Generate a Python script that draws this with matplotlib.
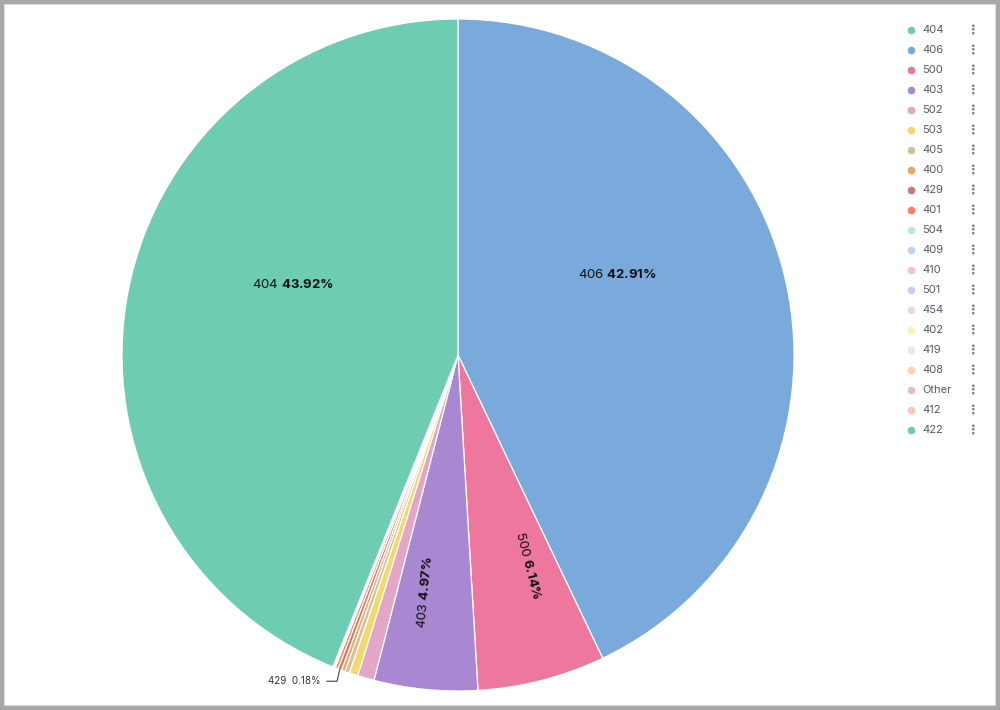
import numpy as np
import matplotlib
matplotlib.use("Agg")
import matplotlib.pyplot as plt
from matplotlib.patches import Rectangle
from matplotlib.lines import Line2D

plt.rcParams['font.family'] = ['Inter', 'DejaVu Sans']
plt.rcParams['mathtext.fontset'] = 'custom'
plt.rcParams['mathtext.rm'] = 'Inter'
plt.rcParams['mathtext.bf'] = 'Inter:bold'

# ---- data (legend order, descending) ----
categories = ["404", "406", "500", "403", "502", "503", "405", "400", "429", "401",
              "504", "409", "410", "501", "454", "402", "419", "408", "Other", "412", "422"]
percents = [43.92, 42.91, 6.14, 4.97, 0.80, 0.42, 0.22, 0.17, 0.18, 0.14,
            0.03, 0.02, 0.015, 0.012, 0.01, 0.008, 0.006, 0.005, 0.01, 0.004, 0.003]
colors = ["#6DCCB1", "#79AADB", "#EE789D", "#A987D1", "#E4A6C7", "#F1D86F", "#D2C0A0",
          "#F5A35C", "#C47C6C", "#FF7E62", "#B8E8DA", "#BED6EE", "#F8C0D2", "#D6C6EB",
          "#F3D4E6", "#FAF0B8", "#ECE7DA", "#FBD2AF", "#E6C0B6", "#FFC4B6", "#6DCCB1"]

W, H = 1000, 710
fig = plt.figure(figsize=(W / 100, H / 100), dpi=100)
fig.patch.set_facecolor("white")

cx, cy, R = 458, 355, 336
ax = fig.add_axes([(cx - R) / W, (H - cy - R) / H, 2 * R / W, 2 * R / H])

# drawing order: largest slice placed last (ends at 12 o'clock)
order = list(range(1, len(categories))) + [0]
vals = [percents[i] for i in order]
cols = [colors[i] for i in order]
wedges, _ = ax.pie(vals, colors=cols, startangle=90, counterclock=False, radius=1.0,
                   wedgeprops=dict(edgecolor="white", linewidth=0.9))
ax.set_xlim(-1, 1)
ax.set_ylim(-1, 1)
ax.set_aspect("equal")
ax.axis("off")

# inner labels for large slices
layout = {"404": (0.534, -12.3, False), "406": (0.531, 14.0, False),
          "500": (0.66, 3.9, True), "403": (0.712, -2.4, True)}
for w, i in zip(wedges, order):
    cat = categories[i]
    if cat not in layout:
        continue
    rf, dth, rot = layout[cat]
    mid = 0.5 * (w.theta1 + w.theta2)
    a = np.deg2rad(mid + dth)
    x, y = rf * np.cos(a), rf * np.sin(a)
    txt = cat + " " + r"$\mathbf{" + f"{percents[i]:.2f}" + r"\%}$"
    if rot:
        r_ang = mid
        if r_ang < -90 or r_ang > 90:
            r_ang += 180
        r_ang = (r_ang + 180) % 360 - 180
    else:
        r_ang = 0
    ax.text(x, y, txt, ha="center", va="center", rotation=r_ang,
            rotation_mode="anchor", fontsize=9.5, color="#111111")

# outside label for 429 with leader line
for w, i in zip(wedges, order):
    if categories[i] == "429":
        mid = np.deg2rad(0.5 * (w.theta1 + w.theta2))
        x0, y0 = np.cos(mid) * 1.0, np.sin(mid) * 1.0
        x1, y1 = x0 - 0.008, y0 - 0.035
        x2 = x1 - 0.03
        ax.add_line(Line2D([x0, x1, x2], [y0, y1, y1], color="#555555", lw=0.9,
                           clip_on=False))
        ax.text(x2 - 0.02, y1, f"{categories[i]}  {percents[i]:.2f}%", ha="right",
                va="center", fontsize=7, color="#333333")

# legend
for k, (cat, col) in enumerate(zip(categories, colors)):
    yy = 1 - (30 + 20 * k) / H
    fig.add_artist(Line2D([911 / W], [yy], marker="o", markersize=5.5, color=col,
                          markeredgewidth=0, transform=fig.transFigure))
    fig.text(922 / W, yy, cat, ha="left", va="center", fontsize=8, color="#535966")
    fig.text(973 / W, yy, "\u22EE", ha="center", va="center", fontsize=9,
             fontweight="bold", color="#7A818C", family="DejaVu Sans")

# screenshot frame
frame = "#A8A8A8"
fig.add_artist(Rectangle((0, 0), 4 / W, 1, transform=fig.transFigure, color=frame, lw=0))
fig.add_artist(Rectangle((0, 1 - 4 / H), 1, 4 / H, transform=fig.transFigure, color=frame, lw=0))
fig.add_artist(Rectangle((1 - 5 / W, 0), 5 / W, 1, transform=fig.transFigure, color=frame, lw=0))
fig.add_artist(Rectangle((0, 0), 1, 5 / H, transform=fig.transFigure, color=frame, lw=0))
fig.add_artist(Rectangle((4 / W, 5 / H), 1 - 9 / W, 1 - 9 / H, transform=fig.transFigure,
                         fill=False, ec="#DADADA", lw=0.8))

fig.savefig("out.png", dpi=100, facecolor="white")
